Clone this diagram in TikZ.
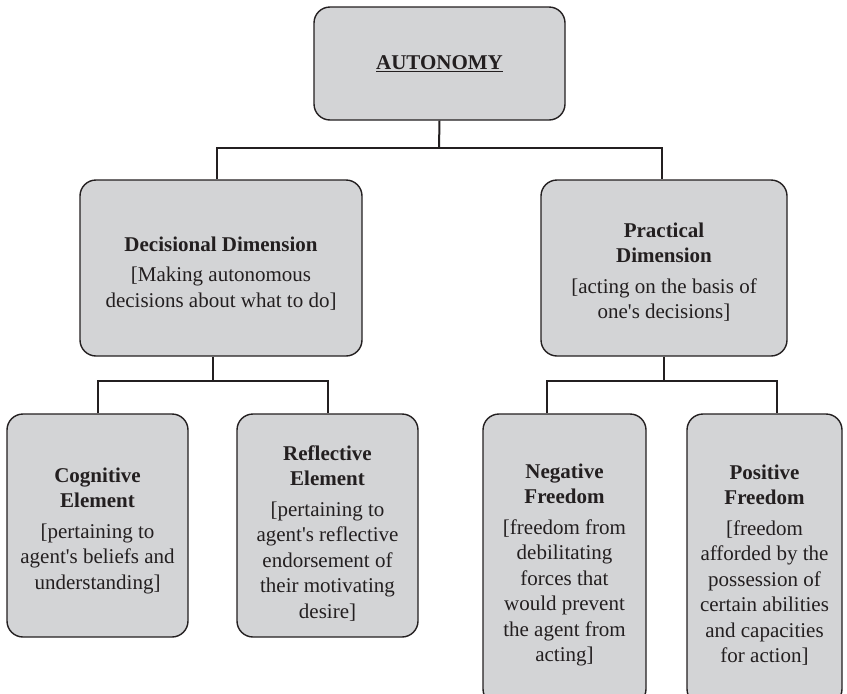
\documentclass[tikz,border=0pt]{standalone}
\usepackage{fontspec}
\newfontfamily\diagfont{Liberation Serif}
\definecolor{boxfill}{RGB}{211,212,214}
\definecolor{ink}{RGB}{35,31,32}
\newcommand{\tp}[1]{\rule{0pt}{#1pt}}
\tikzset{
  box/.style={draw=ink, line width=1.4pt, fill=boxfill, rounded corners=16pt,
    inner sep=0pt, align=center, text=ink,
    font=\diagfont\fontsize{21}{25.5}\selectfont},
  conn/.style={draw=ink, line width=2pt}
}
\begin{document}
\begin{tikzpicture}[x=1pt,y=-1pt]
\useasboundingbox (0,0) rectangle (847,694);
\clip (0,0) rectangle (847,694);
\node[box, minimum width=251pt, minimum height=113pt] (top) at (439.5,63.5) {\underline{\textbf{AUTONOMY}}};
\node[box, minimum width=282pt, minimum height=176pt] (dec) at (221,268)
  {\tp{25}\textbf{Decisional Dimension}\\[5pt][Making autonomous\\decisions about what to do]};
\node[box, minimum width=246pt, minimum height=176pt] (prac) at (664,268)
  {\tp{23}\textbf{Practical}\\\textbf{Dimension}\\[5pt][acting on the basis of\\one's decisions]};
\node[box, minimum width=181pt, minimum height=223pt] (cog) at (97.5,525.5)
  {\tp{25}\textbf{Cognitive}\\\textbf{Element}\\[5pt][pertaining to\\agent's beliefs and\\understanding]};
\node[box, minimum width=181pt, minimum height=223pt] (ref) at (327.5,525.5)
  {\tp{30}\textbf{Reflective}\\\textbf{Element}\\[5pt][pertaining to\\agent's reflective\\endorsement of\\their motivating\\desire]};
\node[box, minimum width=163pt, minimum height=291pt] (neg) at (564.5,559.5)
  {\tp{26}\textbf{Negative}\\\textbf{Freedom}\\[5pt][freedom from\\debilitating\\forces that\\would prevent\\the agent from\\acting]};
\node[box, minimum width=155pt, minimum height=291pt] (pos) at (764.5,559.5)
  {\tp{26}\textbf{Positive}\\\textbf{Freedom}\\[5pt][freedom\\afforded by the\\possession of\\certain abilities\\and capacities\\for action]};
\coordinate (j1) at (439,148);
\coordinate (j2) at (213,381);
\coordinate (j3) at (664,381);
\draw[conn] (top.south) -- (j1);
\draw[conn] ([xshift=-4pt]dec.north) |- (j1) -| ([xshift=-2pt]prac.north);
\draw[conn] ([xshift=-8pt]dec.south) -- (j2);
\draw[conn] (cog.north) |- (j2) -| (ref.north);
\draw[conn] (prac.south) -- (j3);
\draw[conn] ([xshift=-17.5pt]neg.north) |- (j3) -| ([xshift=12.5pt]pos.north);
\end{tikzpicture}
\end{document}
